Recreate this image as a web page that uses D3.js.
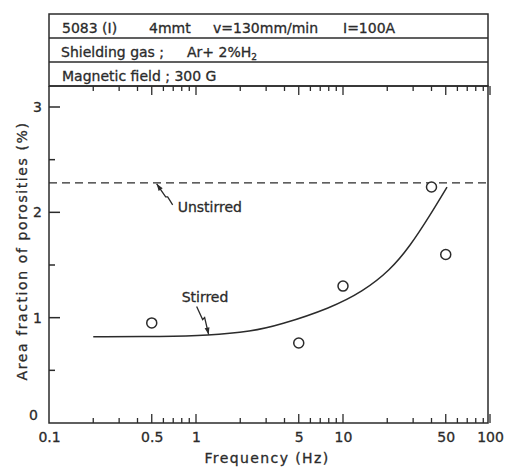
<!DOCTYPE html>
<html>
<head>
<meta charset="utf-8">
<script src="https://cdn.jsdelivr.net/npm/d3@7"></script>
<style>
  body { margin: 0; background: #fff; }
</style>
</head>
<body>
<div class="chart"></div>
<script>
var w = 507;
var h = 467;
var ink = "#2b2b2b";
var font = "DejaVu Sans";

// measured points (frequency Hz, area fraction %)
var pointFreq = [0.5, 5, 10, 40, 50];
var pointVal = [0.95, 0.76, 1.30, 2.24, 1.60];

// stirred curve (hand drawn fit)
var stirFreq = [0.2, 0.6, 1.2, 2.4, 3.7, 8.2, 13.7, 20.9, 28.6, 39, 51];
var stirVal = [0.82, 0.82, 0.83, 0.87, 0.93, 1.09, 1.25, 1.45, 1.68, 1.97, 2.24];

// unstirred level
var unstirredVal = 2.28;

var xLabels = [0.1, 0.5, 1, 5, 10, 50, 100];
var xMajor = [0.5, 1, 5, 10, 50, 100];
var xMinor = [0.2, 0.3, 0.4, 0.6, 0.7, 0.8, 0.9, 2, 3, 4, 6, 7, 8, 9, 20, 30, 40, 60, 70, 80, 90];
var yMajor = [0, 1, 2, 3];
var yMinor = [0.5, 1.5, 2.5];

var header = [
  ["5083 (I)", "4mmt", "v=130mm/min", "I=100A"],
  ["Shielding gas ;", "Ar+ 2%H"],
  ["Magnetic field ; 300 G"]
];

var pL = 49, pR = 488, pT = 86, pB = 423;

var svg = d3.select(".chart")
  .append("svg")
  .attr("width", w)
  .attr("height", h)
  .style("background", "#fff");

var x = d3.scaleLog().domain([0.1, 100]).range([pL, 490]);
var y = d3.scaleLinear().domain([0, 3]).range([pB, 107]);

// header box
var boxTop = 14, rowH = 24;
svg.append("rect")
  .attr("x", pL).attr("y", boxTop)
  .attr("width", pR - pL).attr("height", pT - boxTop)
  .attr("fill", "none").attr("stroke", ink).attr("stroke-width", 1.5);
[1, 2].forEach(function(i) {
  svg.append("line")
    .attr("x1", pL).attr("x2", pR)
    .attr("y1", boxTop + rowH * i).attr("y2", boxTop + rowH * i)
    .attr("stroke", ink).attr("stroke-width", 1.5);
});

var headerX = [[62, 149, 213, 343], [61, 187], [62]];
header.forEach(function(row, i) {
  row.forEach(function(t, j) {
    var tx = svg.append("text")
      .attr("x", headerX[i][j])
      .attr("y", boxTop + rowH * i + 19)
      .attr("font-family", font)
      .attr("font-size", 14)
      .attr("fill", ink)
      .attr("stroke", ink).attr("stroke-width", 0.3)
      .text(t);
    if (i == 1 && j == 1) {
      tx.append("tspan").attr("font-size", 9).attr("dy", 3).text("2");
    }
  });
});

// plot frame: left, bottom, right, top
svg.append("path")
  .attr("d", "M" + pL + "," + pT + "V" + pB + "H" + pR + "V" + pT + "H" + pL)
  .attr("fill", "none").attr("stroke", ink).attr("stroke-width", 1.5);

// x axis ticks (inward, bottom and top)
var xAxisB = d3.axisBottom(x).tickValues(xLabels).tickSize(0).tickPadding(9)
  .tickFormat(function(d) { return d; });
var gxb = svg.append("g").attr("transform", "translate(0," + pB + ")").call(xAxisB);
gxb.select(".domain").remove();
gxb.selectAll("text").attr("font-family", font).attr("font-size", 14).attr("fill", ink)
  .attr("stroke", ink).attr("stroke-width", 0.3);

function xTicks(vals, len, yPos, dir) {
  svg.append("g").selectAll("line").data(vals).join("line")
    .attr("x1", function(d) { return x(d); })
    .attr("x2", function(d) { return x(d); })
    .attr("y1", yPos)
    .attr("y2", yPos + dir * len)
    .attr("stroke", ink).attr("stroke-width", 1.3);
}
xTicks(xMajor, 9, pB, -1);
xTicks(xMinor, 5, pB, -1);
xTicks(xMajor, 9, pT, 1);
xTicks(xMinor, 5, pT, 1);

// y axis
var yAxis = d3.axisLeft(y).tickValues(yMajor).tickSize(0).tickPadding(7)
  .tickFormat(function(d) { return d; });
var gy = svg.append("g").attr("transform", "translate(" + pL + ",0)").call(yAxis);
gy.select(".domain").remove();
gy.selectAll("text").attr("font-family", font).attr("font-size", 14).attr("fill", ink)
  .attr("stroke", ink).attr("stroke-width", 0.3);
gy.selectAll(".tick").filter(function(d) { return d == 0; })
  .select("text").attr("dx", -4).attr("dy", -4);

svg.append("g").selectAll("line").data(yMajor.slice(1)).join("line")
  .attr("x1", pL).attr("x2", pL + 11)
  .attr("y1", function(d) { return y(d); })
  .attr("y2", function(d) { return y(d); })
  .attr("stroke", ink).attr("stroke-width", 1.5);
svg.append("g").selectAll("line").data(yMinor).join("line")
  .attr("x1", pL).attr("x2", pL + 6)
  .attr("y1", function(d) { return y(d); })
  .attr("y2", function(d) { return y(d); })
  .attr("stroke", ink).attr("stroke-width", 1.5);

// axis titles
svg.append("text")
  .attr("transform", "translate(27," + ((pB + 75) / 2 + 2) + ") rotate(-90)")
  .attr("text-anchor", "middle")
  .attr("font-family", font).attr("font-size", 14)
  .attr("letter-spacing", 1.6)
  .attr("fill", ink).attr("stroke", ink).attr("stroke-width", 0.3)
  .text("Area fraction of porosities (%)");

svg.append("text")
  .attr("x", 267).attr("y", 463)
  .attr("text-anchor", "middle")
  .attr("font-family", font).attr("font-size", 14)
  .attr("letter-spacing", 1.4)
  .attr("fill", ink).attr("stroke", ink).attr("stroke-width", 0.3)
  .text("Frequency (Hz)");

// unstirred dashed level
svg.append("line")
  .attr("x1", pL).attr("x2", pR)
  .attr("y1", y(unstirredVal)).attr("y2", y(unstirredVal))
  .attr("stroke", ink).attr("stroke-width", 1.4)
  .attr("stroke-dasharray", "8,5");

// stirred curve
var line = d3.line()
  .x(function(d) { return x(d[0]); })
  .y(function(d) { return y(d[1]); })
  .curve(d3.curveBasis);
svg.append("path")
  .datum(d3.zip(stirFreq, stirVal))
  .attr("d", line)
  .attr("fill", "none").attr("stroke", ink).attr("stroke-width", 1.5);

// data points
svg.append("g").selectAll("circle").data(d3.zip(pointFreq, pointVal)).join("circle")
  .attr("cx", function(d) { return x(d[0]); })
  .attr("cy", function(d) { return y(d[1]); })
  .attr("r", 5)
  .attr("fill", "#fff").attr("stroke", ink).attr("stroke-width", 1.5);

// annotations
function arrow(tipX, tipY, pts) {
  var p = pts.map(function(q) { return [tipX + q[0], tipY + q[1]]; });
  p.push([tipX, tipY]);
  svg.append("path")
    .attr("d", d3.line()(p))
    .attr("fill", "none").attr("stroke", ink).attr("stroke-width", 1.3);
  var a = p[p.length - 2];
  var ang = Math.atan2(tipY - a[1], tipX - a[0]);
  var L = 7, W = 2.5;
  var bx = tipX - L * Math.cos(ang), by = tipY - L * Math.sin(ang);
  svg.append("path")
    .attr("d", "M" + tipX + "," + tipY +
      "L" + (bx + W * Math.sin(ang)) + "," + (by - W * Math.cos(ang)) +
      "L" + (bx - W * Math.sin(ang)) + "," + (by + W * Math.cos(ang)) + "Z")
    .attr("fill", ink);
}

var ux = x(0.54), uy = y(unstirredVal) + 1;
arrow(ux, uy, [[16, 21], [11, 13], [9, 13]]);
svg.append("text")
  .attr("x", ux + 21).attr("y", uy + 28)
  .attr("font-family", font).attr("font-size", 14).attr("fill", ink)
  .attr("stroke", ink).attr("stroke-width", 0.3)
  .text("Unstirred");

var sx = x(1.2) + 1, sy = y(0.83) - 1;
arrow(sx, sy, [[-12, -28], [-6, -15], [-4, -17]]);
svg.append("text")
  .attr("x", sx - 27).attr("y", sy - 33)
  .attr("font-family", font).attr("font-size", 14).attr("fill", ink)
  .attr("stroke", ink).attr("stroke-width", 0.3)
  .text("Stirred");
</script>
</body>
</html>
